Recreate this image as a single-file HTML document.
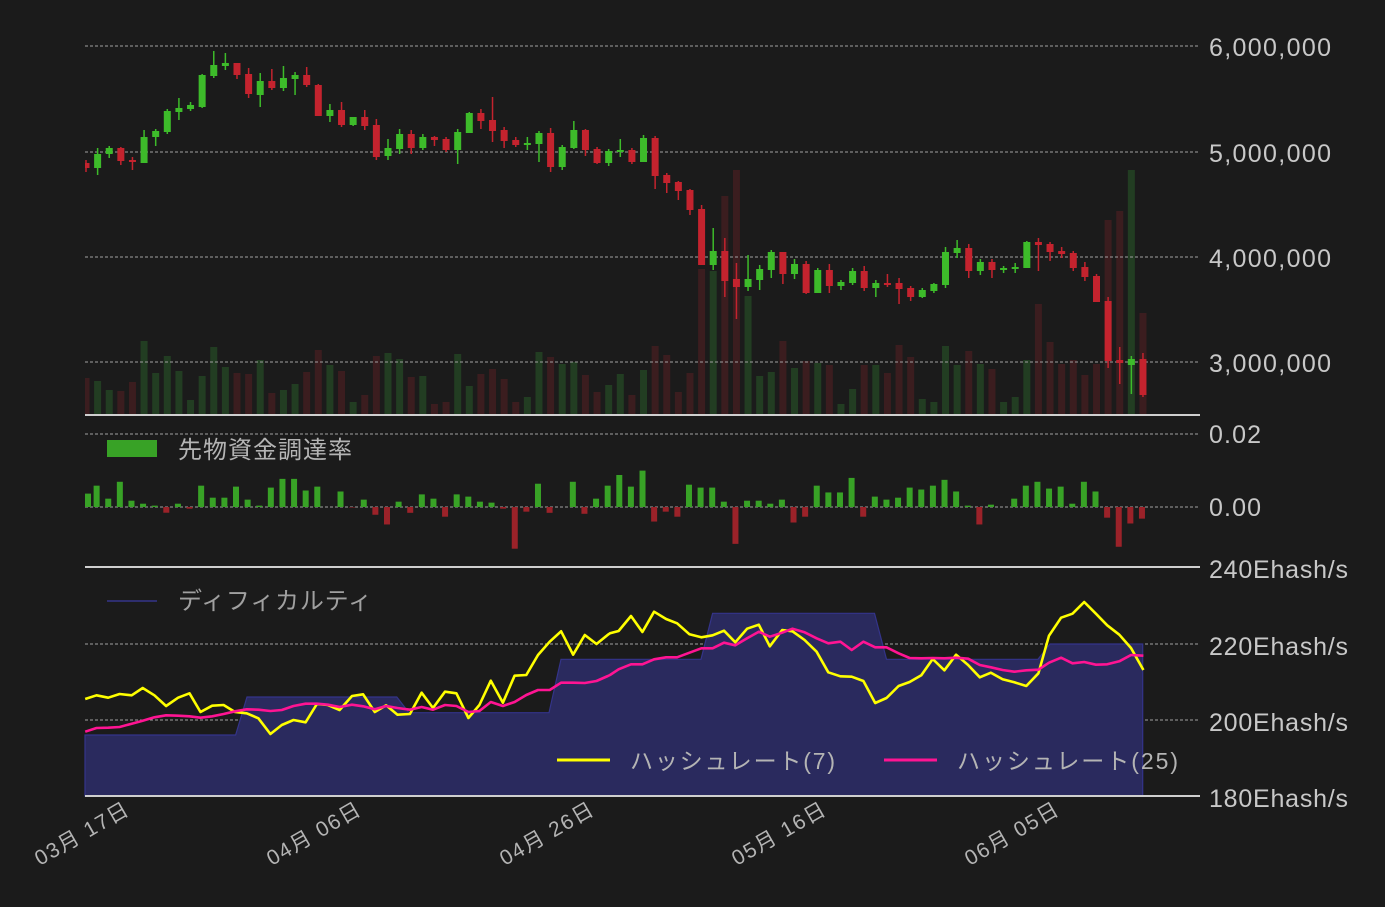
<!DOCTYPE html>
<html><head><meta charset="utf-8">
<style>
html,body{margin:0;padding:0;background:#1b1b1b;}
svg{display:block;font-family:"Liberation Sans","Noto Sans CJK JP",sans-serif;}
</style></head>
<body>
<svg id="s" width="1385" height="907" xmlns="http://www.w3.org/2000/svg">
<rect width="1385" height="907" fill="#1b1b1b"/>
<defs><clipPath id="cp"><rect x="85" y="0" width="1115" height="907"/></clipPath></defs>
<g id="vol" clip-path="url(#cp)"></g>
<g id="grid"></g>
<g id="cand" clip-path="url(#cp)"></g>
<g id="fund"></g>
<g id="bot"></g>
<g fill="#c8c8c8" font-size="25">
<text x="1209" y="56" textLength="122">6,000,000</text>
<text x="1209" y="162" textLength="122">5,000,000</text>
<text x="1209" y="267" textLength="122">4,000,000</text>
<text x="1209" y="372" textLength="122">3,000,000</text>
<text x="1209" y="443" textLength="52">0.02</text>
<text x="1209" y="516" textLength="52">0.00</text>
<text x="1209" y="578" textLength="139">240Ehash/s</text>
<text x="1209" y="655" textLength="139">220Ehash/s</text>
<text x="1209" y="731" textLength="139">200Ehash/s</text>
<text x="1209" y="807" textLength="139">180Ehash/s</text>
</g>
<g fill="#b4b4b4" font-size="21">
<text transform="translate(130,814) rotate(-30)" text-anchor="end" textLength="104">03月 17日</text>
<text transform="translate(362,814) rotate(-30)" text-anchor="end" textLength="104">04月 06日</text>
<text transform="translate(595,814) rotate(-30)" text-anchor="end" textLength="104">04月 26日</text>
<text transform="translate(827,814) rotate(-30)" text-anchor="end" textLength="104">05月 16日</text>
<text transform="translate(1060,814) rotate(-30)" text-anchor="end" textLength="104">06月 05日</text>
</g>
<rect x="107" y="440" width="50" height="17" fill="#38a226"/>
<text x="178" y="458" fill="#b4b4b4" font-size="24" textLength="174">先物資金調達率</text>
<line x1="107" y1="601" x2="157" y2="601" stroke="#2e2e6e" stroke-width="2"/>
<text x="178" y="609" fill="#a0a0a0" font-size="24" textLength="194">ディフィカルティ</text>
<line x1="557" y1="760" x2="610" y2="760" stroke="#ffff00" stroke-width="3"/>
<text x="630" y="769" fill="#b4b4b4" font-size="23" textLength="205">ハッシュレート(7)</text>
<line x1="884" y1="760" x2="937" y2="760" stroke="#ff1493" stroke-width="3"/>
<text x="957" y="769" fill="#b4b4b4" font-size="23" textLength="221">ハッシュレート(25)</text>
</svg>
<script>
var NS="http://www.w3.org/2000/svg";
function el(p,t,a){var e=document.createElementNS(NS,t);for(var k in a)e.setAttribute(k,a[k]);p.appendChild(e);return e;}
var X=function(i){return 86+11.615*i;};
var G="#3dbb2a",R="#c4232e";
var c=[
['r',163,168,160,172],['g',154,168,148,175],['g',148,154,146,158],['r',148,161,147,165],['r',160,162,157,170],
['g',137,163,130,163],['g',131,137,129,146],['g',111,132,109,134],['g',108,112,98,120],['g',105,109,102,111],
['g',75,107,74,108],['g',65,76,51,78],['g',63,66,53,70],['r',63,75,63,79],['r',74,94,68,98],
['g',81,95,73,107],['r',81,88,69,90],['g',78,88,66,91],['g',75,79,72,95],['r',75,85,67,87],
['r',85,116,84,116],['g',110,116,104,122],['r',110,125,102,127],['g',117,125,117,126],['r',117,126,110,130],
['r',125,157,119,160],['g',148,156,139,160],['g',134,149,129,154],['r',134,148,130,154],['g',137,148,134,150],
['r',137,140,136,146],['r',139,150,137,152],['g',132,150,129,164],['g',113,133,112,133],['r',113,121,109,129],
['r',120,131,97,142],['r',130,141,127,148],['r',140,145,137,147],['g',143,144,137,150],['g',133,144,131,162],
['r',133,167,128,172],['g',147,167,145,170],['g',130,148,121,149],['r',130,150,129,156],['r',149,163,147,164],
['g',151,163,149,166],['g',150,152,139,157],['r',150,162,148,164],['g',138,162,135,162],['r',138,176,136,189],
['r',175,183,173,193],['r',182,191,181,200],['r',190,210,189,215],['r',209,265,205,265],['g',251,265,228,270],
['r',251,281,238,297],['r',279,287,263,319],['g',279,287,255,291],['g',269,280,265,290],['g',252,270,250,278],
['r',252,274,252,284],['g',264,274,259,279],['r',264,293,261,294],['g',270,293,268,293],['r',270,286,264,293],
['g',282,286,280,290],['g',271,283,268,285],['r',271,288,266,291],['g',283,288,280,297],['r',283,284,274,287],
['r',283,289,278,304],['r',288,297,286,301],['g',290,297,288,298],['g',284,291,283,293],['g',252,285,247,288],
['g',248,253,240,258],['r',248,271,244,278],['g',262,271,259,275],['r',262,270,259,278],['g',268,270,266,273],
['g',267,269,263,273],['g',242,268,241,268],['r',242,245,238,271],['r',244,252,242,261],['r',251,254,247,258],
['r',253,268,251,271],['r',267,277,262,281],['r',276,302,274,302],['r',301,361,297,368],['r',360,363,347,384],
['g',359,365,356,394],['r',359,395,353,397]];
var v=[['r',378],['g',381],['g',390],['r',391],['r',382],['g',341],['g',373],['g',356],['g',371],['g',400],['g',376],['g',347],['g',367],['r',373],['r',374],['g',360],['r',393],['g',390],['g',384],['r',372],['r',350],['g',365],['r',371],['g',402],['r',395],['r',356],['g',353],['g',359],['r',377],['g',376],['r',404],['r',402],['g',354],['g',386],['r',374],['r',369],['r',379],['r',402],['g',397],['g',352],['r',357],['g',364],['g',362],['r',375],['r',392],['g',385],['g',374],['r',395],['g',370],['r',346],['r',355],['r',392],['r',373],['r',269],['g',271],['r',196],['r',170],['g',296],['g',376],['g',372],['r',341],['g',368],['r',361],['g',363],['r',365],['g',404],['g',389],['r',365],['g',365],['r',373],['r',345],['r',357],['g',399],['g',402],['g',346],['g',365],['r',351],['g',364],['r',369],['g',402],['g',397],['g',360],['r',304],['r',342],['r',364],['r',360],['r',375],['r',364],['r',220],['r',211],['g',170],['r',313]];
var vg=document.getElementById('vol');
v.forEach(function(d,i){el(vg,'rect',{x:X(i)-3.5,y:d[1],width:7,height:415-d[1],fill:d[0]=='g'?'#223d22':'#3b1d1f'});});
var gg=document.getElementById('grid');
[46,152,257,362,434,507,644,720].forEach(function(y){el(gg,'line',{x1:85,x2:1200,y1:y,y2:y,stroke:'#a0a0a0','stroke-width':1,'stroke-dasharray':'3,2'});});
var cg=document.getElementById('cand');
c.forEach(function(d,i){var col=d[0]=='g'?G:R,x=X(i);
el(cg,'line',{x1:x,x2:x,y1:d[3],y2:d[4],stroke:col,'stroke-width':1.5});
var h=Math.max(d[2]-d[1],2);el(cg,'rect',{x:x-3.5,y:d[1],width:7,height:h,fill:col});});
var f=[13.8,22,8.6,26,6.5,3.4,1.4,-5.9,3.4,-1.7,22,9.6,9.6,21,7.6,1.4,20,29,29,17,21,0,16,-0.5,7.6,-8,-18,5.5,-6,13,8.6,-10,13,10.7,5.5,4.5,-1.7,-43,-4.8,24,-6,0,26,-7,8.6,22,33,21,37.5,-15,-4.8,-10,23,20,20,5.5,-38,6.5,6.5,3.4,7.6,-16,-10,22,15,15,30,-10,10.7,7.6,9.6,20,18,22,28,16,1.4,-18,2.4,0,8.6,22,26,19,21,3.4,26,16,-11,-41,-17,-12];
var fg=document.getElementById('fund');
f.forEach(function(h,i){if(h==0)return;h*=0.97;var x=Math.max(X(i)-1,88);
if(h>0)el(fg,'rect',{x:x-3,y:507-h,width:6,height:h,fill:'#38a226'});
else el(fg,'rect',{x:x-3,y:507,width:6,height:-h,fill:'#9b2229'});});
var bg=document.getElementById('bot');
var diff='85,796 85,735 235.6,735 247,697 396.8,697 409,712.7 549,712.7 561,659.3 701,659.3 712.6,613.3 874.5,613.3 886.5,659.3 1038,659.3 1050,644 1142.7,644 1142.7,796';
el(bg,'polygon',{points:diff,fill:'#2a2a5e',stroke:'#34348a','stroke-width':1.2});
function pts(a,b,ox){var o=[];for(var k=0;k<a.length;k+=2)o.push((ox+a[k]/2.904).toFixed(1)+','+(580+a[k+1]/3).toFixed(1));return o;}
var y6=[15,357,48,346,82,353,115,342,150,346,182,324,216,346,250,378,285,353,318,340,350,396,384,377,417,375,450,396,484,400,518,415,553,462,586,435,620,420,655,427,688,372,720,375,754,390,790,348,822,343,856,396,889,376,922,404,958,402,992,338,1025,384,1060,335,1093,340,1128,414,1160,375,1193,302,1228,368,1262,287,1296,285,1330,225,1364,185,1397,154,1432,224,1466,165,1500,192,1533,164];
var y7=[0,160,25,153,61,108,94,156,128,95,163,117,195,130,231,163,265,172,298,166,331,152,364,187,398,146,432,134,464,199,500,150,530,154,565,180,600,215,634,277,669,289,702,290,736,303,770,369,803,354,838,318,870,306,904,286,937,237,971,271,1005,224,1040,255,1074,292,1106,278,1140,298,1174,307,1209,318,1244,280,1275,167,1310,113,1343,101,1377,66,1411,101,1444,136,1479,164,1513,204,1549,270];
var m6=[15,455,48,444,82,443,115,441,150,431,182,422,216,412,250,406,285,407,318,409,350,413,384,409,417,402,450,394,484,388,518,389,553,393,586,390,620,378,655,371,688,371,720,374,754,381,790,374,822,379,856,388,889,378,922,384,958,389,992,381,1025,389,1060,375,1093,378,1128,396,1160,393,1193,366,1228,378,1262,366,1296,345,1330,330,1364,330,1397,308,1432,308,1466,309,1500,303,1533,288];
var m7=[0,285,25,268,61,253,94,253,128,238,163,232,195,232,231,218,265,205,298,205,331,188,364,196,398,175,432,155,464,170,500,158,530,146,565,157,600,175,634,190,669,185,702,210,736,185,770,202,803,202,838,220,870,234,904,235,937,234,971,235,1005,233,1040,236,1074,255,1106,262,1140,270,1174,275,1209,271,1244,269,1275,248,1310,233,1343,250,1377,246,1411,254,1444,253,1479,244,1513,225,1549,227];
el(bg,'polyline',{points:pts(y6,0,80).concat(pts(y7,0,610)).join(' '),fill:'none',stroke:'#ffff00','stroke-width':2.6,'stroke-linejoin':'round'});
el(bg,'polyline',{points:pts(m6,0,80).concat(pts(m7,0,610)).join(' '),fill:'none',stroke:'#ff1493','stroke-width':2.6,'stroke-linejoin':'round'});
var s=document.getElementById('s');
[415,567,796].forEach(function(y){el(s,'line',{x1:85,x2:1200,y1:y,y2:y,stroke:'#cfcfcf','stroke-width':2});});
</script>
</body></html>
